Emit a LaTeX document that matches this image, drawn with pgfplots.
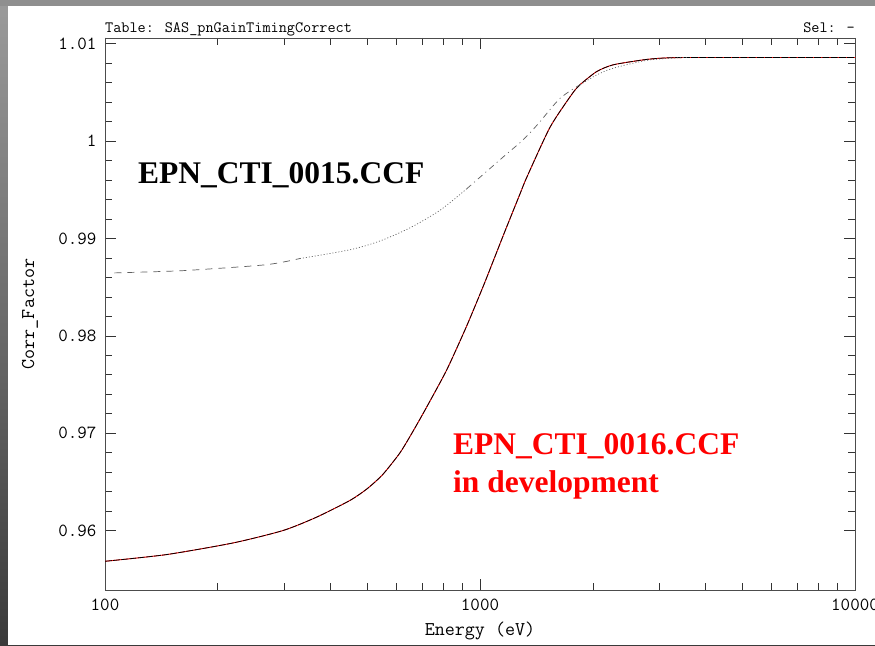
\documentclass[border=0pt]{standalone}
\usepackage{fontspec}
\usepackage{pgfplots}
\pgfplotsset{compat=1.18}
\newfontfamily\annfont{Liberation Serif}

\definecolor{frametop}{RGB}{143,143,143}
\definecolor{framelight}{RGB}{155,155,155}
\definecolor{framedark}{RGB}{58,58,58}
\definecolor{ccfgray}{RGB}{95,95,95}

% CTI correction factor, EPN_CTI_0016.CCF (in development)
\pgfplotstableread{
E      corr
100    0.95685
146    0.95754
220    0.95874
299    0.96002
367    0.96139
450    0.96310
500    0.96430
550    0.96575
612    0.96800
665    0.97030
721    0.97270
815    0.97650
921    0.98100
1021   0.98514
1085   0.98771
1166   0.99077
1279   0.99461
1332   0.99627
1537   1.00143
1756   1.00480
1848   1.00580
2047   1.00715
2268   1.00785
2783   1.00840
3212   1.00857
4000   1.00860
10000  1.00860
}\ccfnew

% CTI correction factor, EPN_CTI_0015.CCF, split by line style
\pgfplotstableread{
E      corr
106    0.98647
150    0.98665
179    0.98681
270    0.98732
331    0.98795
}\ccfoldA
\pgfplotstableread{
E      corr
331    0.98795
450    0.98885
541    0.98975
651    0.99111
782    0.99290
921    0.99510
}\ccfoldB
\pgfplotstableread{
E      corr
921    0.99510
1042   0.99690
1178   0.99869
1279   0.99985
1359   1.00085
1445   1.00200
1635   1.00440
1848   1.00580
}\ccfoldC
\pgfplotstableread{
E      corr
1848   1.00580
2047   1.00680
2268   1.00750
2783   1.00830
3300   1.00855
3600   1.00860
}\ccfoldD

\begin{document}
\begin{tikzpicture}[x=1pt,y=1pt]
% slide background
\shade[top color=framelight, bottom color=framedark] (0,0) rectangle (875,645);
\fill[frametop] (0,639) rectangle (875,645);
\fill[white] (8,0) rectangle (875,639);

% table header above the plot frame
\node[anchor=base west, font=\ttfamily\fontsize{15.8}{15.8}\selectfont, inner sep=0pt]
  at (105,612) {Table: SAS\_pnGainTimingCorrect};
\node[anchor=base east, font=\ttfamily\fontsize{15.8}{15.8}\selectfont, inner sep=0pt]
  at (855,612) {Sel: –};

\begin{axis}[
  at={(105pt,55pt)}, anchor=south west,
  scale only axis, width=750pt, height=552pt,
  xmode=log, xmin=100, xmax=10000,
  ymin=0.9539, ymax=1.0106,
  xtick={100,1000,10000}, xticklabels={100,1000,10000},
  ytick={0.96,0.97,0.98,0.99,1,1.01},
  yticklabels={0.96,0.97,0.98,0.99,1,1.01},
  minor y tick num=4,
  tick align=inside,
  major tick length=11pt, minor tick length=7pt,
  axis line style={black!70, line width=0.8pt},
  tick style={black!80, line width=0.8pt},
  ticklabel style={font=\ttfamily\fontsize{18.5}{18.5}\selectfont, black},
  xticklabel style={yshift=-5pt},
  yticklabel style={xshift=-5pt},
  xlabel={Energy (eV)}, ylabel={Corr\_Factor},
  label style={font=\ttfamily\fontsize{19.5}{19.5}\selectfont, black},
  xlabel style={at={(axis description cs:0.5,-0.075)}, anchor=center},
  ylabel style={at={(axis description cs:-0.1,0.5)}, anchor=center},
]
\addplot[red, line width=0.9pt, smooth, tension=0.4] table[x=E,y=corr] {\ccfnew};
\addplot[black, line width=0.75pt, smooth, tension=0.4, dash pattern=on 7pt off 1.2pt] table[x=E,y=corr] {\ccfnew};

\addplot[ccfgray, line width=0.7pt, smooth, dash pattern=on 7pt off 6pt] table[x=E,y=corr] {\ccfoldA};
\addplot[ccfgray, line width=0.7pt, smooth, dash pattern=on 1pt off 2pt] table[x=E,y=corr] {\ccfoldB};
\addplot[ccfgray, line width=0.7pt, smooth, dash pattern=on 6pt off 4pt on 1pt off 4pt] table[x=E,y=corr] {\ccfoldC};
\addplot[ccfgray, line width=0.7pt, smooth, dash pattern=on 1pt off 2pt] table[x=E,y=corr] {\ccfoldD};

\node[anchor=base west, inner sep=0pt, font=\annfont\bfseries\fontsize{31.5}{37}\selectfont]
  at (rel axis cs:0.044,0.7373) {EPN\_CTI\_0015.CCF};
\node[anchor=base west, inner sep=0pt, text=red,
      font=\annfont\bfseries\fontsize{31.5}{37}\selectfont]
  at (rel axis cs:0.464,0.2446) {EPN\_CTI\_0016.CCF};
\node[anchor=base west, inner sep=0pt, text=red,
      font=\annfont\bfseries\fontsize{31.5}{37}\selectfont]
  at (rel axis cs:0.464,0.1775) {in development};
\end{axis}

\pgfresetboundingbox
\useasboundingbox (0,0) rectangle (875,645);
\end{tikzpicture}
\end{document}
